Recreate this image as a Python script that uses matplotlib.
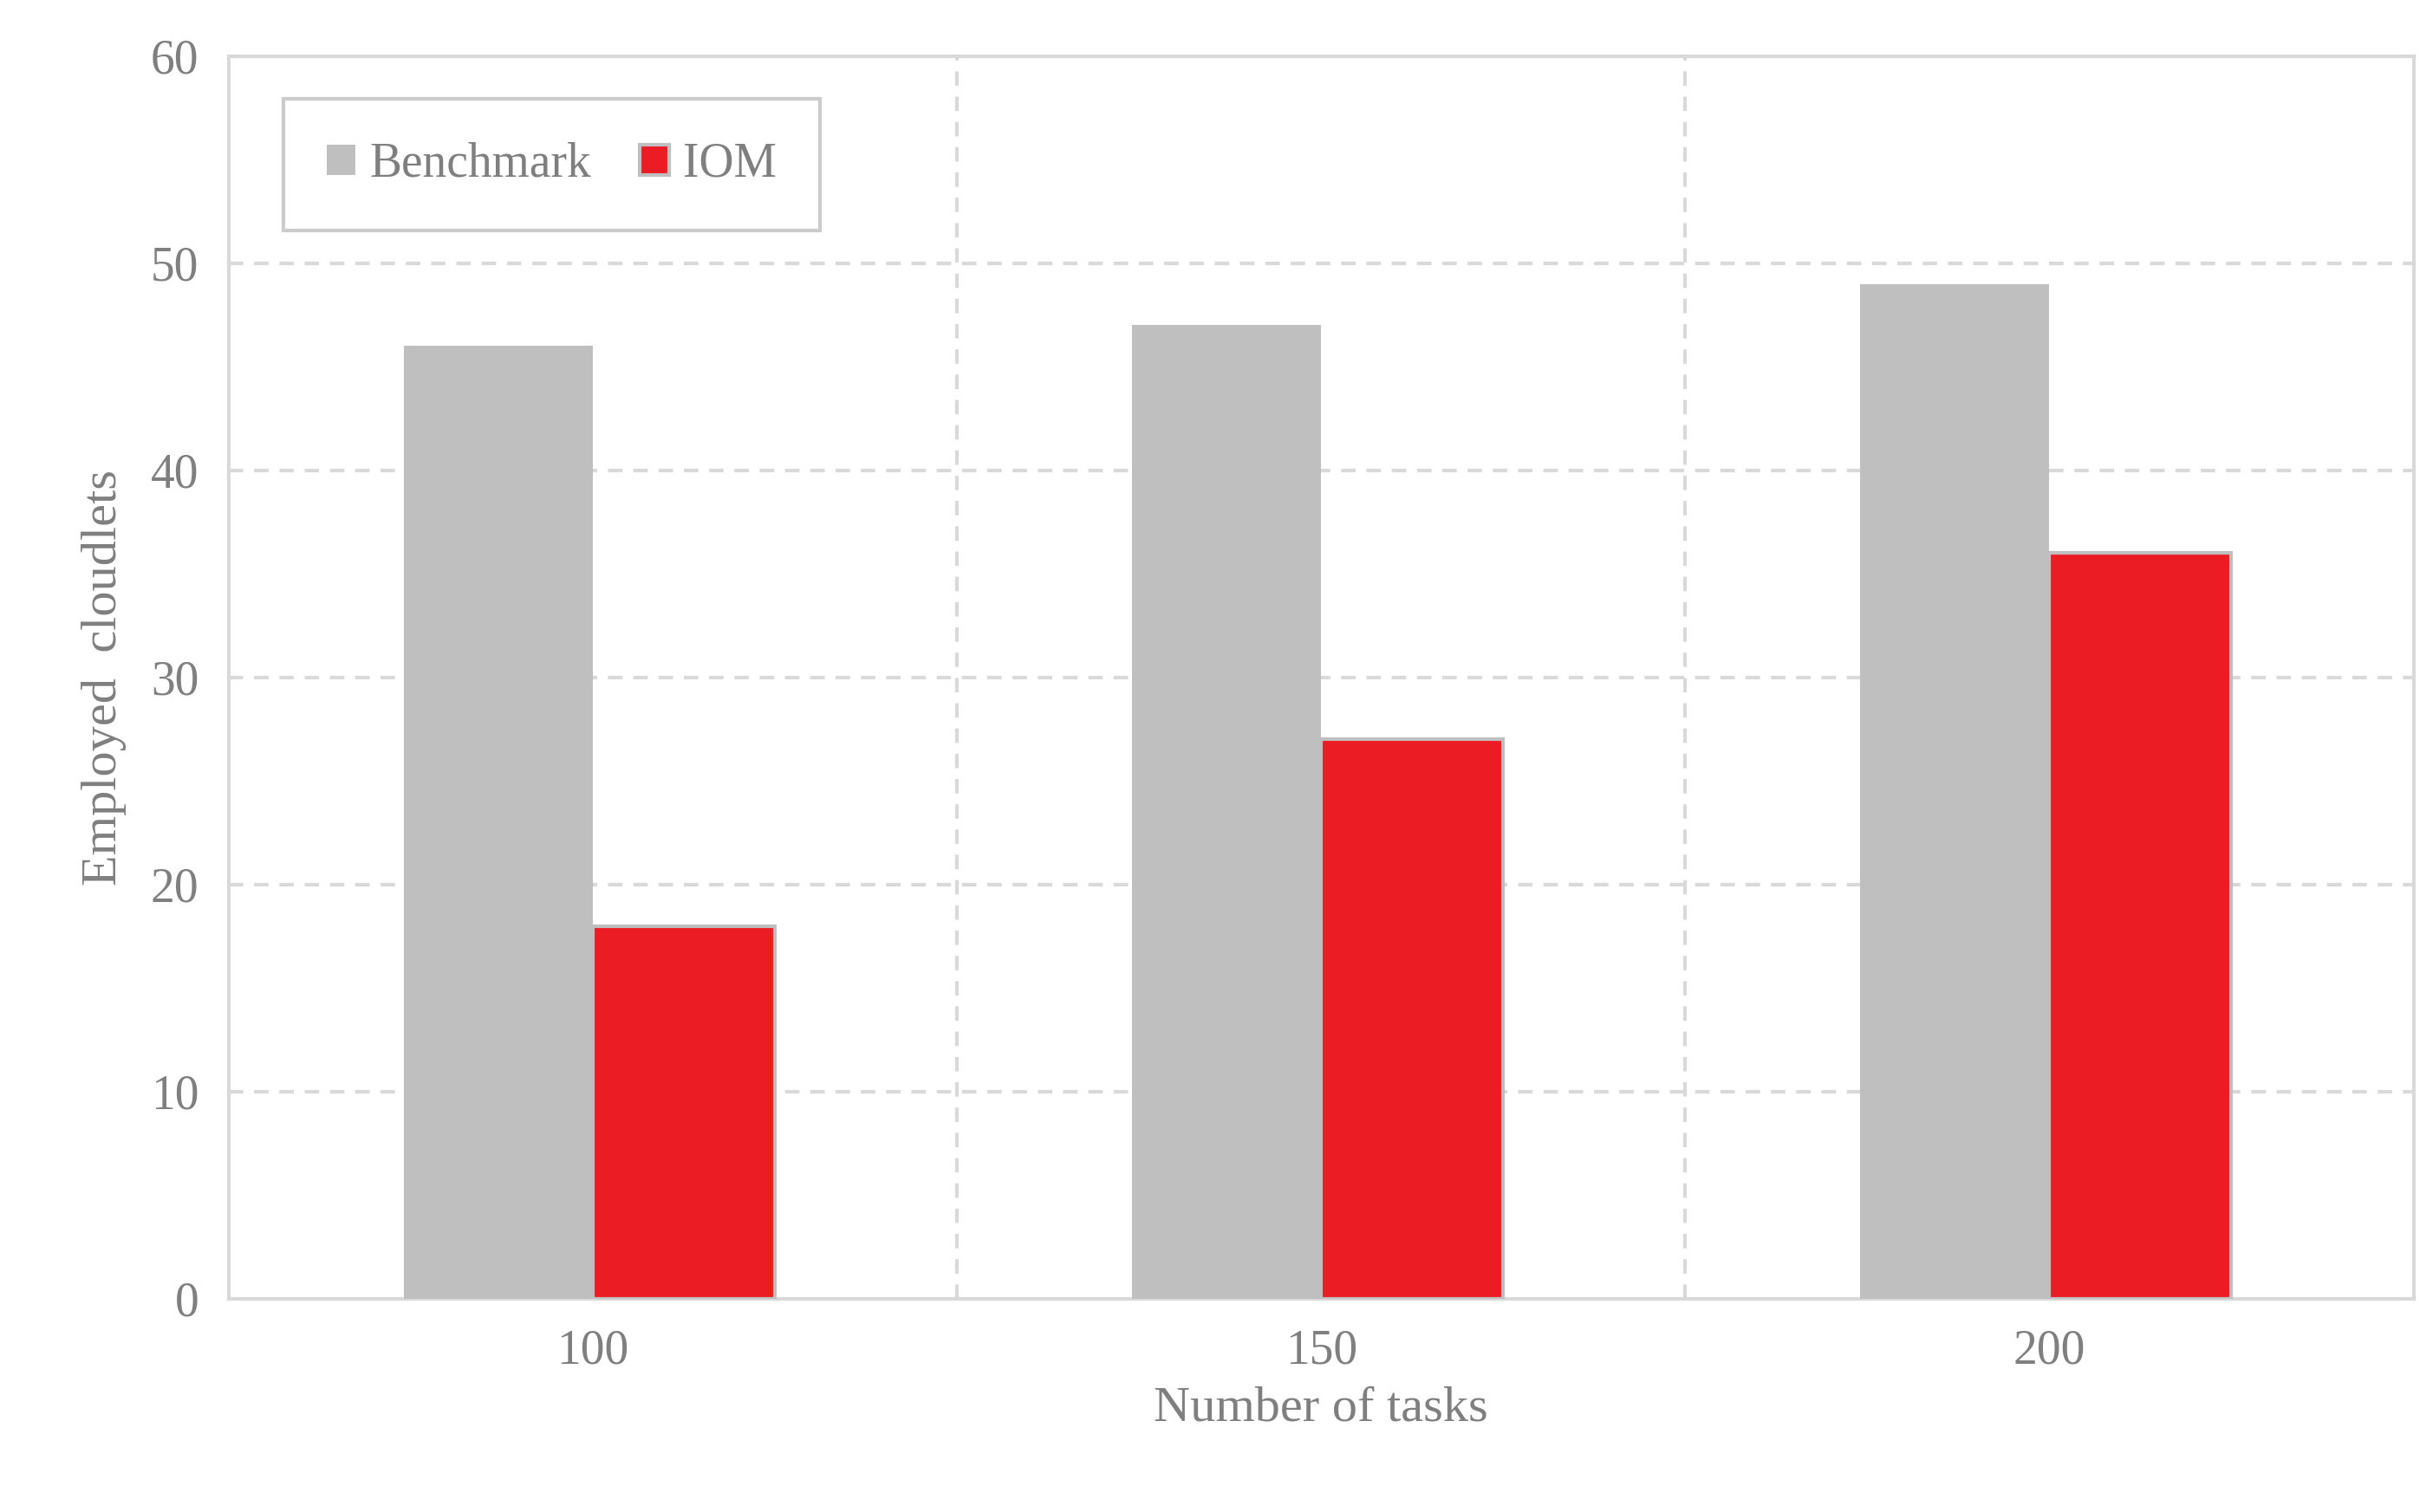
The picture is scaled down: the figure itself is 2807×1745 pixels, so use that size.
import matplotlib.pyplot as plt
import numpy as np

tasks = ['100', '150', '200']
benchmark = [46, 47, 49]
iom = [18, 27, 36]

plt.rcParams['font.family'] = ['Liberation Serif', 'DejaVu Serif']
txt = '#7f7f7f'
grid = '#d9d9d9'

fig = plt.figure(figsize=(28.07, 17.45), dpi=100)
ax = fig.add_axes([0.094, 0.141, 0.898, 0.822])

x = np.arange(len(tasks))
w = 0.26
ax.bar(x - w / 2, benchmark, w, color='#bfbfbf', label='Benchmark', zorder=3)
ax.bar(x + w / 2 - 0.005, iom, w - 0.01, color='#ec1c24', edgecolor='#bfbfbf',
       linewidth=3, label='IOM', zorder=3)

ax.set_xlim(-0.5, 2.5)
ax.set_ylim(0, 60)
ax.set_yticks(range(0, 61, 10))
ax.set_xticks(x)
ax.set_xticklabels(tasks)
for v in [0.5, 1.5]:
    ax.axvline(v, color=grid, linestyle=(0, (4, 3)), linewidth=3, zorder=1)
for v in range(10, 60, 10):
    ax.axhline(v, color=grid, linestyle=(0, (4, 3)), linewidth=3, zorder=1)
for s in ax.spines.values():
    s.set_color(grid)
    s.set_linewidth(3)
ax.tick_params(length=0, labelsize=40, colors=txt, pad=25)

ax.set_xlabel('Number of tasks', fontsize=42, color=txt, labelpad=10)
ax.set_ylabel('Employed  cloudlets', fontsize=42, color=txt, labelpad=20)

leg = ax.legend(loc='upper left', fontsize=40, frameon=True, fancybox=False,
                borderpad=0.9, handlelength=0.6, handleheight=0.6,
                handletextpad=0.3, columnspacing=1.0, ncol=2,
                bbox_to_anchor=(0.014, 0.985))
leg.get_frame().set_edgecolor('#bfbfbf')
leg.get_frame().set_linewidth(3)
for t in leg.get_texts():
    t.set_color(txt)

plt.savefig('out.png', dpi=100)
